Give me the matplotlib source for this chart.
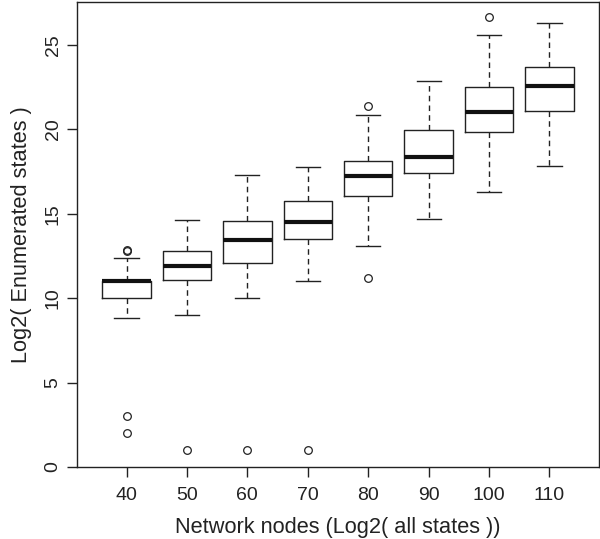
import matplotlib.pyplot as plt

plt.rcParams['font.family'] = ['Liberation Sans', 'DejaVu Sans']

# box statistics
nodes = ['40', '50', '60', '70', '80', '90', '100', '110']
whislo = [8.8, 9.02, 10.0, 11.04, 13.07, 14.67, 16.27, 17.85]
q1 = [10.0, 11.05, 12.08, 13.48, 16.07, 17.43, 19.82, 21.07]
med = [11.0, 11.88, 13.42, 14.53, 17.22, 18.34, 21.05, 22.57]
q3 = [11.04, 12.81, 14.59, 15.73, 18.1, 19.94, 22.49, 23.67]
whishi = [12.38, 14.65, 17.27, 17.77, 20.83, 22.84, 25.57, 26.32]
fliers = [[12.78, 12.83, 3.0, 2.0], [1.0], [1.0], [1.0], [21.4, 11.2], [], [26.63], []]

stats = []
for i in range(len(nodes)):
    stats.append({'whislo': whislo[i], 'q1': q1[i], 'med': med[i], 'q3': q3[i],
                  'whishi': whishi[i], 'fliers': fliers[i], 'label': nodes[i]})

fig = plt.figure(figsize=(6, 5.39), dpi=100)
ax = fig.add_axes([77 / 600, (539 - 467.3) / 539, 522 / 600, 465.5 / 539])

pos = list(range(1, len(nodes) + 1))
ax.bxp(stats, positions=pos, widths=0.8, capwidths=0.4,
       boxprops=dict(color='#222222', linewidth=1.0),
       medianprops=dict(color='#111111', linewidth=3.0),
       whiskerprops=dict(color='#222222', linewidth=1.0, linestyle=(0, (4, 3))),
       capprops=dict(color='#222222', linewidth=1.0),
       flierprops=dict(marker='o', markerfacecolor='none', markeredgecolor='#222222',
                       markersize=5.5, markeredgewidth=0.9))

ax.set_xlim(0.18, 8.82)
ax.set_ylim(-0.02, 27.55)
ax.set_xticks(pos)
ax.set_xticklabels(nodes)
ax.set_yticks([0, 5, 10, 15, 20, 25])
for lab in ax.get_yticklabels():
    lab.set_rotation(90)
    lab.set_va('center')
ax.tick_params(direction='out', length=7, width=1, labelsize=14, colors='#222222')
ax.tick_params(axis='x', pad=7.5)
ax.tick_params(axis='y', pad=4)
for s in ax.spines.values():
    s.set_linewidth(1.0)
    s.set_color('#222222')

ax.set_xlabel('Network nodes (Log2( all states ))', fontsize=15.7, labelpad=9, color='#222222')
ax.set_ylabel('Log2( Enumerated states )', fontsize=15.7, labelpad=9, color='#222222')

fig.savefig('out.png', dpi=100)
